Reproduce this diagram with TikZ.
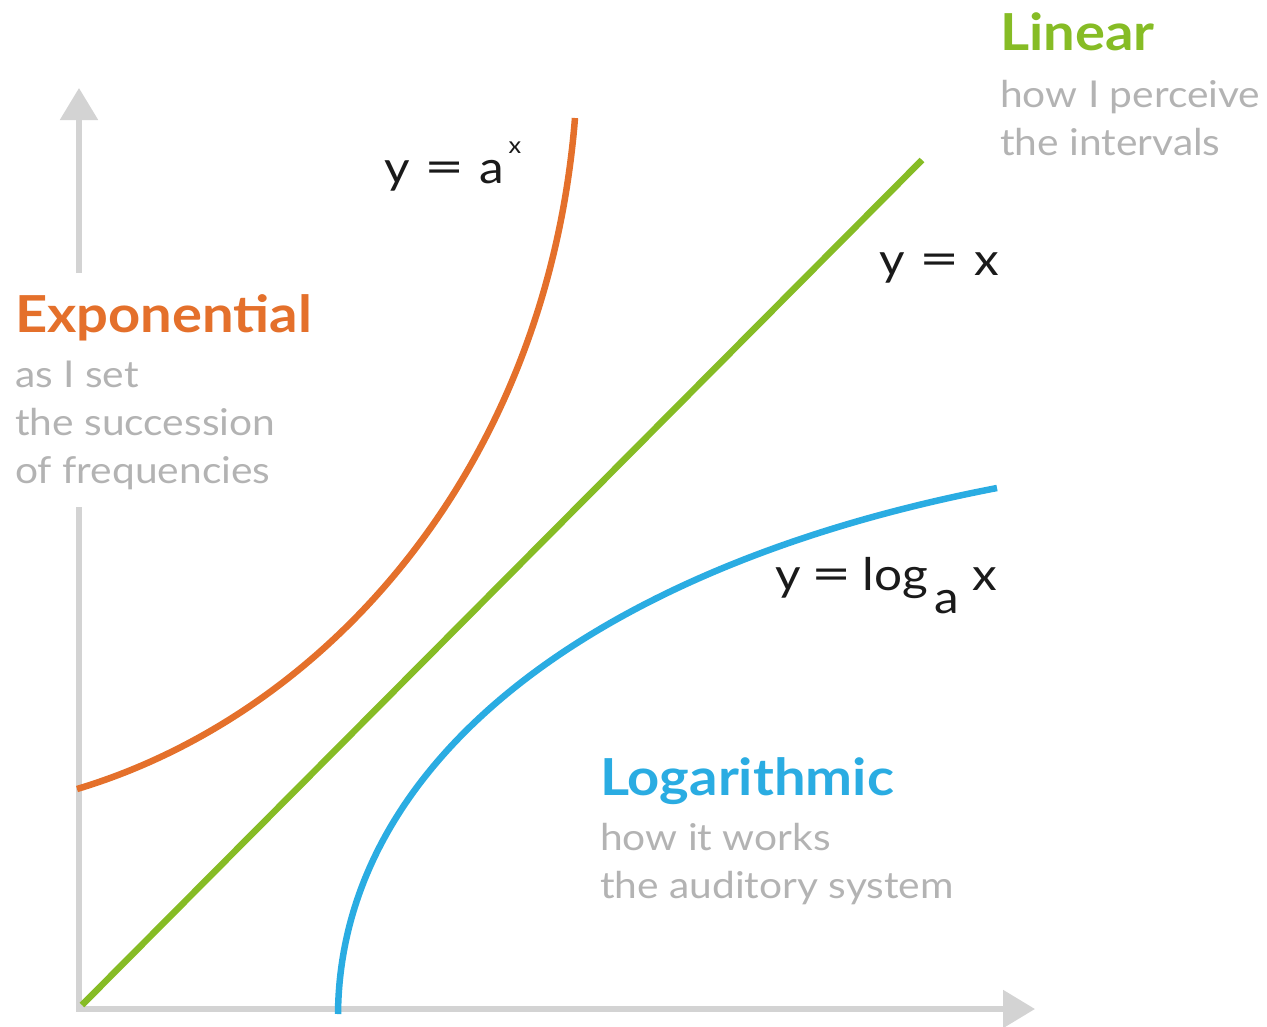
\documentclass[tikz,border=0pt]{standalone}
\usepackage{fontspec}
\usepackage{graphicx}
\setmainfont{Lato}[FakeStretch=1.1]
\usetikzlibrary{arrows.meta}
\definecolor{expo}{HTML}{E4702B}
\definecolor{lin}{HTML}{86BC25}
\definecolor{logc}{HTML}{2AACE2}
\definecolor{note}{HTML}{B3B3B3}
\definecolor{axisgray}{HTML}{D3D3D3}
\definecolor{ink}{HTML}{1A1A1A}
\newcommand{\gap}{\hspace{11pt}}
\newcommand{\widegap}{\hspace{15pt}}
\newcommand{\eqsign}{\scalebox{1.4}[1.05]{=}}
\begin{document}
\begin{tikzpicture}[x=1pt,y=-1pt,
  axisline/.style={draw=axisgray,line width=5.5pt},
  axistip/.style={-{Triangle[length=32pt,width=37pt]}},
  curve/.style={line width=6.5pt},
  heading/.style={anchor=base west,inner sep=0pt,font=\fontsize{51}{51}\selectfont\bfseries},
  note/.style={anchor=base west,inner sep=0pt,text=note,font=\fontsize{37}{37}\selectfont},
  formula/.style={anchor=base west,inner sep=0pt,text=ink,font=\fontsize{45}{45}\selectfont}]

\useasboundingbox (0,0) rectangle (1267,1026);

% axes
\coordinate (origin) at (79,1009);
\coordinate (ygapbottom) at (79,507);
\coordinate (ygaptop) at (79,273);
\coordinate (ytip) at (79,88);
\coordinate (xtip) at (1035,1009);
\draw[axisline] (origin) -- (ygapbottom);
\draw[axisline,axistip] (ygaptop) -- (ytip);
\draw[axisline,axistip] ([xshift=-2.75pt]origin) -- (xtip);

% y = x
\coordinate (linstart) at (82,1005);
\coordinate (linend) at (922,160);
\draw[curve,draw=lin] (linstart) -- (linend);

% y = a^x
\coordinate (expstart) at (77,789);
\coordinate (expend) at (575,118);
\draw[curve,draw=expo] (expstart) .. controls (327,714) and (547,468) .. (expend);

% y = log_a x
\coordinate (logstart) at (338,1014);
\coordinate (logend) at (997,488);
\draw[curve,draw=logc] (logstart) .. controls (340,763) and (592,566) .. (logend);

% formulas
\node[formula] (fexp) at (384,183) {y\widegap\eqsign\widegap a\kern4pt\raisebox{30pt}{\fontsize{23}{23}\selectfont x}};
\node[formula] (flin) at (879,275) {y\widegap\eqsign\widegap x};
\node[formula] (flog) at (775,590) {y\gap\eqsign\gap log\kern6pt\raisebox{-23pt}{a}\kern14pt x};

% labels
\node[heading,text=lin] (linear) at (1000,50) {Linear};
\node[note] (lin1) at (1000,107) {how I perceive};
\node[note] (lin2) at (1000,155) {the intervals};

\node[heading,text=expo] (exponential) at (15,332) {Exponential};
\node[note] (exp1) at (15,387) {as I set};
\node[note] (exp2) at (15,435) {the succession};
\node[note] (exp3) at (15,483) {of frequencies};

\node[heading,text=logc] (logarithmic) at (600,795) {Logarithmic};
\node[note] (log1) at (600,850) {how it works};
\node[note] (log2) at (600,898) {the auditory system};
\end{tikzpicture}
\end{document}
